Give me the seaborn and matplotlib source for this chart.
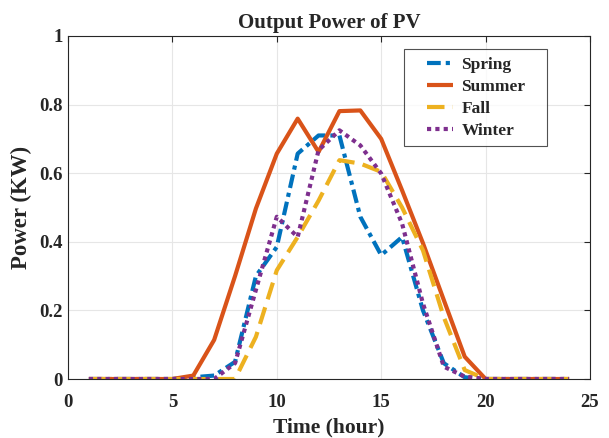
import numpy as np
import pandas as pd
import matplotlib
matplotlib.use("Agg")
import matplotlib.pyplot as plt
from matplotlib.lines import Line2D
from matplotlib.legend_handler import HandlerLine2D
import seaborn as sns

hours = list(range(1, 25))
spring = [0, 0, 0, 0, 0, 0.005, 0.01, 0.05, 0.30, 0.385, 0.657, 0.71,
          0.71, 0.473, 0.361, 0.414, 0.20, 0.046, 0.005, 0, 0, 0, 0, 0]
summer = [0, 0, 0, 0, 0, 0.01, 0.114, 0.30, 0.497, 0.657, 0.759, 0.662,
          0.781, 0.783, 0.70, 0.55, 0.396, 0.23, 0.065, 0, 0, 0, 0, 0]
fall = [0, 0, 0, 0, 0, 0, 0, 0, 0.123, 0.317, 0.414, 0.52,
        0.638, 0.628, 0.604, 0.50, 0.375, 0.18, 0.026, 0, 0, 0, 0, 0]
winter = [0, 0, 0, 0, 0, 0, 0, 0.046, 0.26, 0.473, 0.414, 0.667,
          0.725, 0.681, 0.599, 0.453, 0.22, 0.036, 0.007, 0, 0, 0, 0, 0]
seasons = ["Spring", "Summer", "Fall", "Winter"]

df = pd.DataFrame({
    "hour": hours * 4,
    "power": spring + summer + fall + winter,
    "season": sum([[s] * len(hours) for s in seasons], []),
})

sns.set_style("whitegrid")
plt.rcParams["font.family"] = ["Liberation Serif", "DejaVu Serif"]
plt.rcParams["font.weight"] = "bold"

palette = {"Spring": "#0072BD", "Summer": "#D95319",
           "Fall": "#EDB120", "Winter": "#7E2F8E"}

fig = plt.figure(figsize=(6.09, 4.38), dpi=100)
ax = fig.add_axes([68 / 609, 1 - 379 / 438, (590 - 68) / 609, (379 - 36) / 438])

sns.lineplot(data=df, x="hour", y="power", hue="season", palette=palette,
             hue_order=seasons, ax=ax, linewidth=3.0, legend=False)

styles = {"Spring": (0, (3.3, 1.2, 1.0, 1.2)), "Summer": "-",
          "Fall": (0, (4.2, 2.0)), "Winter": (0, (1.0, 1.0))}
for line, s in zip(ax.lines, seasons):
    line.set_linestyle(styles[s])
    line.set_dash_capstyle("butt")
    line.set_solid_capstyle("butt")
    line.set_label(s)

ax.set_xlim(0, 25)
ax.set_ylim(0, 1)
ax.set_xticks([0, 5, 10, 15, 20, 25])
ax.set_yticks([0, 0.2, 0.4, 0.6, 0.8, 1])
ax.set_yticklabels(["0", "0.2", "0.4", "0.6", "0.8", "1"])
ax.grid(True, color="#e6e6e6", linewidth=0.8)
for sp in ax.spines.values():
    sp.set_visible(True)
    sp.set_color("#262626")
    sp.set_linewidth(0.8)
ax.tick_params(direction="in", length=4, width=0.8, color="#262626",
               top=True, right=True, labelsize=13.5)
ax.tick_params(axis="x", pad=10.5)
ax.tick_params(axis="y", pad=4)
for t in ax.get_xticklabels() + ax.get_yticklabels():
    t.set_fontweight("bold")

ax.set_xlabel("Time (hour)", fontsize=15.5, fontweight="bold", labelpad=5)
ax.set_ylabel("Power (KW)", fontsize=16.5, fontweight="bold", labelpad=5)
ax.set_title("Output Power of PV", fontsize=15, fontweight="bold", pad=6)


class OffsetLineHandler(HandlerLine2D):
    """Legend line drawn in the right part of the handle box only."""

    def create_artists(self, legend, orig_handle, xdescent, ydescent,
                       width, height, fontsize, trans):
        artists = super().create_artists(legend, orig_handle, xdescent,
                                         ydescent, width, height, fontsize,
                                         trans)
        for a in artists:
            n = len(a.get_xdata())
            if n >= 2:
                a.set_xdata(np.linspace(width - xdescent - 19.0,
                                        width - xdescent, n))
        return artists


leg = ax.legend(loc="upper left", bbox_to_anchor=(0.6437, 0.691, 0.274, 0.271),
                mode="expand", fontsize=12.5, frameon=True, fancybox=False,
                edgecolor="#262626", handlelength=2.4, handletextpad=0.46,
                borderpad=0.45, labelspacing=0.33, borderaxespad=0,
                handler_map={Line2D: OffsetLineHandler()})
leg.get_frame().set_linewidth(0.8)
for t in leg.get_texts():
    t.set_fontweight("bold")

fig.savefig("out.png", dpi=100)
